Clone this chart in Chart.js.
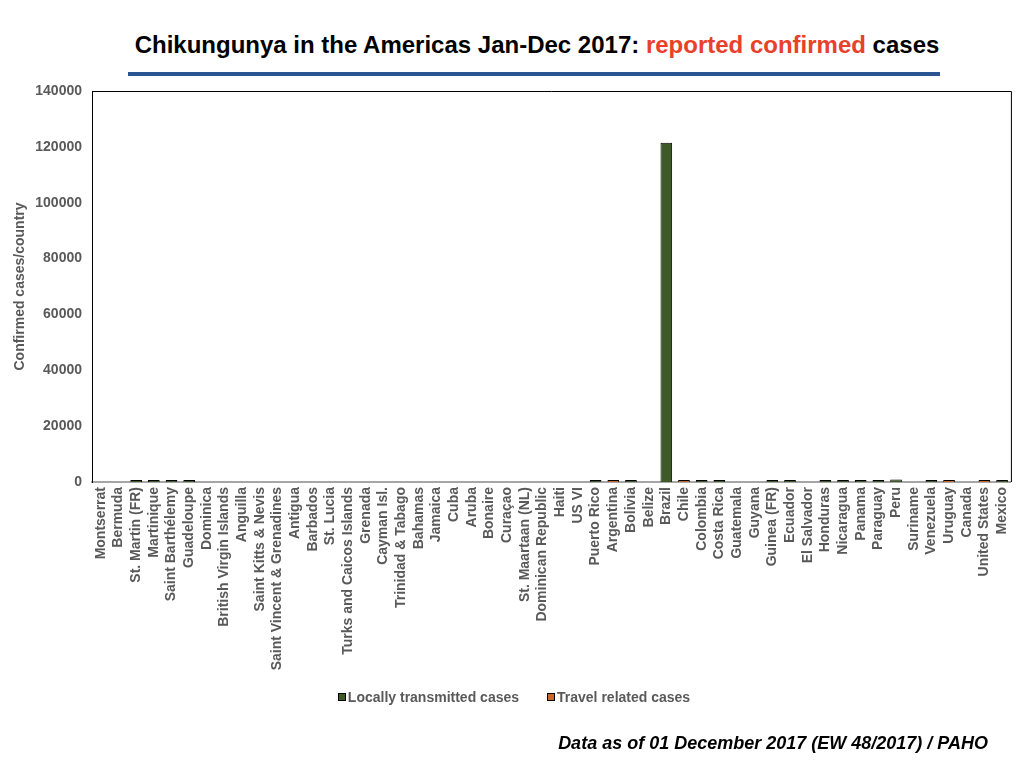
<!DOCTYPE html>
<html>
<head>
<meta charset="utf-8">
<script src="https://cdn.jsdelivr.net/npm/chart.js@4"></script>
<style>
  html, body { margin: 0; padding: 0; background: #fff; }
  #wrap { position: relative; width: 1024px; height: 768px; overflow: hidden; }
  #title {
    position: absolute; left: 0; top: 31px; width: 1074px; text-align: center;
    font-family: "Liberation Sans Narrow", "Liberation Sans", Arial, sans-serif;
    font-weight: bold; font-size: 24px; color: #000;
  }
  #title span { color: #e8402a; }
  #rule { position: absolute; left: 128px; top: 72px; width: 812px; height: 4px; background: #2a5592; }
  #legend {
    position: absolute; left: 0; top: 688px; width: 1028px; text-align: center;
    font-family: "Liberation Sans", Arial, sans-serif;
    font-weight: bold; font-size: 14px; color: #595959; line-height: 18px;
  }
  #legend .item { display: inline-block; margin: 0 14px; }
  #legend .box {
    display: inline-block; width: 6px; height: 6px; border: 1px solid #000;
    margin-right: 2px; vertical-align: 1px;
  }
  #note {
    position: absolute; right: 36px; top: 733px;
    font-family: "Liberation Sans", Arial, sans-serif;
    font-weight: bold; font-style: italic; font-size: 18px; color: #000;
  }
  #chart { position: absolute; left: 0; top: 0; }
</style>
</head>
<body>
<div id="wrap">
  <div id="title">Chikungunya in the Americas Jan-Dec 2017: <span>reported confirmed</span> cases</div>
  <div id="rule"></div>
  <canvas id="chart" width="1024" height="768"></canvas>
  <div id="legend"></div>
  <div id="note">Data as of 01 December 2017 (EW 48/2017) / PAHO</div>
</div>
<script>
const countries = [
    "Montserrat", "Bermuda", "St. Martin (FR)", "Martinique", "Saint Barthélemy", "Guadeloupe",
    "Dominica", "British Virgin Islands", "Anguilla", "Saint Kitts & Nevis", "Saint Vincent & Grenadines",
    "Antigua", "Barbados", "St. Lucia", "Turks and Caicos Islands", "Grenada", "Cayman Isl.",
    "Trinidad & Tabago", "Bahamas", "Jamaica", "Cuba", "Aruba", "Bonaire", "Curaçao", "St. Maartaan (NL)",
    "Dominican Republic", "Haiti", "US VI", "Puerto Rico", "Argentina", "Bolivia", "Belize", "Brazil",
    "Chile", "Colombia", "Costa Rica", "Guatemala", "Guyana", "Guinea (FR)", "Ecuador", "El Salvador",
    "Honduras", "Nicaragua", "Panama", "Paraguay", "Peru", "Suriname", "Venezuela", "Uruguay",
    "Canada", "United States", "Mexico"
];

// locally transmitted confirmed cases (null = none reported)
const localCases = [
    null, null, 250, 200, 150, 200,
    null, null, null, null, null,
    null, null, null, null, null, null,
    null, null, null, null, null, null, null, null,
    null, null, null, 200, null, 250, null, 121500,
    null, 250, 250, null, null, 200, 250, null,
    250, 200, 700, 250, 900, null, 250, null,
    null, null, 250
];

// travel related confirmed cases
const travelCases = [
    null, null, null, null, null, null,
    null, null, null, null, null,
    null, null, null, null, null, null,
    null, null, null, null, null, null, null, null,
    null, null, null, null, 150, null, null, null,
    100, null, null, null, null, null, null, null,
    null, null, null, null, null, null, null, 100,
    null, 200, null
];

const yTicks = [0, 20000, 40000, 60000, 80000, 100000, 120000, 140000];

const frameLines = {
    id: "frameLines",
    afterDraw(chart) {
        const a = chart.chartArea;
        const ctx = chart.ctx;
        ctx.save();
        ctx.strokeStyle = "#000";
        ctx.lineWidth = 1;
        ctx.beginPath();
        ctx.moveTo(a.left, a.top + 0.5);
        ctx.lineTo(a.right + 0.5, a.top + 0.5);
        ctx.lineTo(a.right + 0.5, a.bottom);
        ctx.stroke();
        ctx.restore();
    }
};

const tickFont = { family: "'Liberation Sans', Arial, sans-serif", weight: "bold", size: 14 };

const chart = new Chart(document.getElementById("chart").getContext("2d"), {
    type: "bar",
    data: {
        labels: countries,
        datasets: [
            {
                label: "Locally transmitted cases",
                data: localCases,
                backgroundColor: "#3e5a26",
                borderColor: "#000",
                borderWidth: 1,
                minBarLength: 2
            },
            {
                label: "Travel related cases",
                data: travelCases,
                backgroundColor: "#c8692c",
                borderColor: "#000",
                borderWidth: 1,
                minBarLength: 2
            }
        ]
    },
    options: {
        responsive: false,
        animation: false,
        datasets: { bar: { categoryPercentage: 1, barPercentage: 0.66 } },
        layout: { padding: { top: 91, right: 13, left: 0, bottom: 84 } },
        plugins: {
            legend: { display: false },
            tooltip: { enabled: false }
        },
        scales: {
            x: {
                stacked: true,
                grid: { display: false, drawTicks: false },
                border: { color: "#a6a6a6", width: 2 },
                ticks: {
                    autoSkip: false, maxRotation: 90, minRotation: 90, padding: 5,
                    color: "#595959", font: tickFont
                },
                afterFit(scale) { scale.height = 202; }
            },
            y: {
                stacked: true,
                min: 0, max: 140000,
                grid: { display: false, drawTicks: false },
                border: { color: "#000", width: 1 },
                afterBuildTicks(scale) { scale.ticks = yTicks.map(v => ({ value: v })); },
                ticks: { padding: 10, color: "#595959", font: tickFont, callback: v => String(v) },
                title: {
                    display: true, text: "Confirmed cases/country",
                    color: "#595959", font: tickFont, padding: { top: 12, bottom: 0 }
                },
                afterFit(scale) { scale.width = 92; }
            }
        }
    },
    plugins: [frameLines]
});

// html legend built from the datasets
const legend = document.getElementById("legend");
chart.data.datasets.forEach(ds => {
    const item = document.createElement("span");
    item.className = "item";
    item.innerHTML = `<span class="box" style="background:${ds.backgroundColor}"></span>${ds.label}`;
    legend.appendChild(item);
});
</script>
</body>
</html>
